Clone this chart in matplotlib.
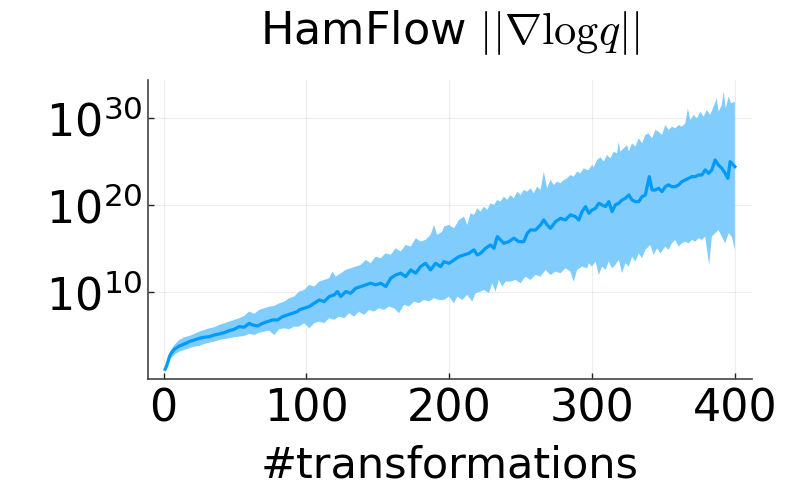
import matplotlib
matplotlib.use("Agg")
import matplotlib.pyplot as plt
import numpy as np

# --- data (log10 of ||grad log q||) ---
mean_x = [1, 2, 3, 4, 5.2, 7.5, 11, 14.5, 18, 21.5, 25, 28.5, 32, 35.4, 38.9,
          42.4, 45.9, 49.4, 52.9, 56.4, 59.9, 62.2, 65.7, 69.2, 72.7, 76.2,
          79.7, 83.2, 86.7, 90.2, 93.7,
          94.9, 98.4, 101.9, 105.4, 108.9, 112.4, 115.9, 119.4, 121.7, 124.0,
          127.5, 131.0, 134.5, 138.0, 141.5, 145.0, 148.5, 152.0, 155.5, 159.0,
          162.5, 166.0, 169.5, 173.0, 176.5, 179.9, 183.4, 186.9, 190.4, 193.9,
          196.3, 199.8, 203.3, 206.8, 210.3, 213.8, 217.3, 219.6, 221.9, 225.4,
          228.9, 231.3, 233.6, 235.9, 238.2, 241.7, 245.2, 248.7, 252.2, 254.6,
          256.9, 260.4, 263.9, 266.2, 268.5, 270.9, 274.4, 277.9, 281.3, 284.8,
          288.3, 290.7, 293.0, 295.4,
          297.7, 300.0, 302.4, 304.7, 307.0, 309.4, 311.7, 314.0, 316.3, 318.7,
          321.0, 323.3, 325.7, 328.0, 330.3, 332.7, 335.0, 337.3, 340.1, 342.0,
          344.3, 346.6, 349.0, 351.3, 353.6, 355.9, 358.3, 360.6, 362.9, 365.3,
          367.6, 369.9, 372.3, 374.6, 376.9, 379.2, 381.6, 383.9, 386.2, 388.5,
          390.9, 393.2, 395.1, 396.7, 400]
mean_log = [1.15, 1.53, 2.03, 2.60, 2.99, 3.45, 3.83, 4.06, 4.33, 4.52, 4.71,
            4.83, 4.90, 5.09, 5.21, 5.36, 5.59, 5.75, 6.05, 5.98, 6.43, 6.24,
            6.13, 6.43, 6.63, 6.82, 6.82, 7.20, 7.39, 7.58, 7.78,
            7.98, 8.17, 8.36, 8.74, 9.12, 8.93, 9.51, 9.70, 10.08, 9.51, 10.08,
            9.89, 10.46, 10.66, 10.85, 11.04, 10.85, 11.04, 10.66, 11.61, 11.99,
            12.19, 11.80, 12.57, 12.19, 12.95, 13.34, 12.57, 13.34, 12.95,
            13.52, 13.33, 13.72, 14.10, 14.29, 14.48, 14.87, 14.29, 14.48, 15.06,
            15.44, 15.06, 16.40, 16.01, 15.63, 15.82, 16.21, 15.82, 15.82, 16.78,
            17.16, 17.16, 17.74, 18.31, 17.74, 17.35, 18.12, 18.50, 18.31, 18.89,
            18.70, 18.31, 19.27, 19.84,
            19.08, 19.46, 19.65, 20.23, 20.04, 19.85, 20.42, 19.27, 20.04, 20.23,
            20.61, 20.80, 21.19, 20.61, 20.42, 20.42, 20.99, 21.19, 23.29, 21.76,
            21.76, 21.95, 21.57, 22.14, 22.34, 22.14, 22.14, 22.34, 22.72, 22.91,
            23.10, 23.29, 23.29, 23.48, 23.48, 24.06, 23.68, 24.06, 25.21, 24.63,
            24.25, 23.68, 23.10, 25.02, 24.44]

upper_x = [1, 2.8, 5.2, 7.5, 11.0, 14.5, 18.0, 21.5, 25.0, 28.5, 32.0, 35.4,
           38.9, 42.4, 45.9, 49.4, 52.9, 56.4, 59.9, 63.4, 66.9, 70.4, 73.9,
           77.4, 80.9, 84.4, 87.9, 91.4,
           94.9, 98.4, 101.9, 105.4, 108.9, 112.4, 115.9, 118.2, 120.5, 124.0,
           127.5, 131.0, 134.5, 138.0, 141.5, 145.0, 148.5, 152.0, 155.5, 159.0,
           162.5, 166.0, 169.5, 173.0, 176.5, 179.9, 183.4, 186.9, 189.3, 191.6,
           195.1,
           196.3, 199.8, 203.3, 206.8, 210.3, 212.6, 214.9, 217.3, 219.6, 221.9,
           224.3, 226.6, 228.9, 231.3, 233.6, 235.9, 238.2, 240.6, 242.9, 245.2,
           247.6, 249.9, 252.2, 254.6, 256.9, 259.2, 261.5, 263.9, 266.2, 268.5,
           270.9, 273.2, 275.5, 277.9, 280.2, 282.5, 284.8, 287.2, 289.5, 291.8,
           294.2, 296.5,
           297.7, 300.0, 301.2, 303.5, 305.9, 308.2, 310.5, 312.8, 315.2, 317.5,
           318.7, 319.8, 322.2, 324.5, 325.7, 328.0, 330.3, 332.7, 335.0, 337.3,
           339.6, 342.0, 344.3, 346.6, 349.0, 351.3, 353.6, 355.9, 358.3, 360.6,
           362.9, 365.3, 367.1, 368.8, 371.1, 373.4, 375.8, 378.1, 380.4, 382.7,
           385.1, 387.4, 388.6, 390.9, 392.1, 393.7, 395.6, 397.4, 400]
upper_log = [1.46, 2.41, 3.37, 3.95, 4.52, 4.83, 4.98, 5.21, 5.48, 5.67, 5.86,
             5.98, 6.24, 6.43, 6.63, 6.82, 7.01, 7.28, 7.78, 7.51, 7.97, 8.16,
             8.35, 8.43, 8.73, 8.92, 9.31, 9.50,
             10.08, 10.27, 10.85, 10.66, 11.23, 11.42, 11.61, 12.38, 11.80, 12.19,
             12.57, 12.76, 12.95, 13.15, 13.72, 13.34, 14.10, 13.91, 14.49, 14.30,
             15.06, 14.68, 15.44, 15.25, 16.21, 15.83, 16.02, 16.59, 17.74, 16.59,
             16.98,
             17.55, 17.74, 17.35, 18.31, 18.70, 17.74, 19.08, 18.89, 19.65, 19.27,
             19.84, 19.46, 20.23, 20.04, 20.61, 20.42, 20.99, 20.61, 21.18, 20.80,
             21.57, 21.18, 21.76, 21.57, 21.95, 21.38, 22.14, 21.76, 23.87, 21.95,
             22.91, 22.33, 22.72, 22.53, 22.91, 23.10, 23.48, 23.29, 23.87, 23.67,
             24.25, 24.06,
             24.06, 24.63, 24.36, 25.21, 25.51, 25.02, 25.78, 25.40, 26.17, 25.97,
             27.31, 26.17, 26.55, 26.93, 26.17, 27.12, 26.74, 27.70, 27.12, 28.08,
             28.27, 27.70, 28.65, 28.46, 28.08, 29.23, 28.65, 29.04, 28.85, 29.23,
             29.04, 29.42, 31.14, 29.80, 30.38, 29.99, 30.76, 30.19, 30.95, 30.38,
             31.34, 32.29, 30.76, 31.53, 33.06, 31.14, 32.49, 31.72, 31.91]

lower_x = [1, 2.8, 5.2, 7.5, 11.0, 14.5, 18.0, 21.5, 25.0, 28.5, 32.0, 35.4,
           38.9, 42.4, 45.9, 49.4, 52.9, 56.4, 59.9, 63.4, 66.9, 70.4, 73.9,
           77.4, 80.9, 84.4, 87.9, 91.4,
           94.9, 98.4, 101.9, 105.4, 108.9, 112.4, 115.9, 119.4, 122.9, 126.4,
           129.9, 133.3, 136.8, 140.3, 143.8, 147.3, 150.8, 154.3, 157.8, 161.3,
           164.8, 168.3, 171.8, 175.3, 178.8, 182.3, 185.8, 189.3, 192.8,
           196.3, 199.8, 203.3, 205.6, 209.1, 212.6, 216.1, 218.4, 221.9, 224.3,
           227.8, 230.1, 232.4, 234.7, 237.1, 239.4, 242.9, 246.4, 249.9, 253.4,
           256.9, 260.4, 263.9, 267.4, 270.9, 274.4, 277.9, 281.3, 284.8, 287.2,
           289.5, 293.0, 296.5,
           297.7, 300.0, 302.4, 304.7, 307.0, 309.4, 311.7, 314.0, 316.3, 318.7,
           321.0, 323.3, 325.7, 328.0, 330.3, 332.7, 335.0, 337.3, 340.8, 343.1,
           345.5, 347.8, 351.3, 353.6, 355.9, 358.3, 360.6, 362.9, 365.3, 367.6,
           369.9, 372.3, 374.6, 376.9, 379.2, 382.0, 383.9, 386.2, 388.5, 390.9,
           393.2, 395.6, 397.9, 400]
lower_log = [0.88, 1.65, 2.41, 2.80, 3.18, 3.37, 3.56, 3.75, 3.83, 4.06, 4.21,
             4.33, 4.52, 4.60, 4.71, 4.83, 4.90, 4.98, 5.21, 5.09, 5.36, 5.48,
             5.59, 5.09, 5.75, 5.86, 5.75, 6.05,
             6.06, 6.44, 5.87, 6.44, 6.63, 6.44, 7.02, 6.83, 7.21, 7.02, 7.59,
             7.21, 7.78, 7.40, 7.97, 7.78, 8.17, 7.97, 8.36, 8.17, 7.59, 8.55,
             8.36, 8.93, 8.74, 9.12, 8.93, 9.32, 9.12,
             9.12, 9.50, 8.74, 9.50, 9.12, 9.69, 8.93, 9.89, 10.08, 10.27, 9.89,
             11.04, 10.08, 11.42, 10.65, 11.23, 11.23, 11.42, 11.04, 11.80, 11.42,
             11.99, 11.80, 12.57, 11.99, 12.38, 12.18, 12.76, 12.38, 11.23, 12.57,
             12.95, 12.76,
             13.33, 12.95, 13.53, 12.00, 12.95, 12.57, 13.53, 12.76, 13.14, 13.72,
             12.19, 13.33, 12.95, 14.10, 13.53, 14.48, 13.91, 14.87, 15.44, 14.29,
             15.06, 14.48, 15.25, 14.87, 15.63, 16.02, 15.25, 15.63, 15.82, 15.63,
             16.02, 15.82, 16.21, 16.02, 16.40, 13.14, 16.40, 16.78, 17.17, 16.40,
             15.63, 16.78, 16.40, 14.87]

xticks = [0, 100, 200, 300, 400]
yticks = [1e10, 1e20, 1e30]

plt.rcParams["mathtext.fontset"] = "cm"
line_color = "#009afa"
band_color = "#80ccfd"

fig = plt.figure(figsize=(8, 5), dpi=100)
ax = fig.add_axes([0.185, 0.242, 0.755, 0.598])

# ribbon: upper edge forward, lower edge back
band_x = np.concatenate([upper_x, lower_x[::-1]])
band_y = 10.0 ** np.concatenate([upper_log, lower_log[::-1]])
ax.fill(band_x, band_y, color=band_color, linewidth=0)
ax.plot(mean_x, 10.0 ** np.array(mean_log), color=line_color, linewidth=2.3)

ax.set_yscale("log")
ax.set_xlim(-11, 412)
ax.set_ylim(10 ** 0.03, 10 ** 34.4)
ax.set_xticks(xticks)
ax.set_yticks(yticks)
ax.yaxis.set_minor_locator(matplotlib.ticker.NullLocator())

ax.grid(True, color="black", alpha=0.07, linewidth=0.8)
ax.set_axisbelow(True)
for side in ["top", "right"]:
    ax.spines[side].set_visible(False)
for side in ["left", "bottom"]:
    ax.spines[side].set_color("#444444")
    ax.spines[side].set_linewidth(1.2)
ax.tick_params(direction="in", length=4, width=1, color="#222222",
               labelcolor="black", labelsize=32, pad=4)
ax.tick_params(axis="x", pad=6)

ax.set_xlabel("#transformations", fontsize=31, labelpad=10)
ax.set_title(r"HamFlow $||\nabla \mathrm{log}q||$", fontsize=32, pad=26)

fig.savefig("out.png", dpi=100)
